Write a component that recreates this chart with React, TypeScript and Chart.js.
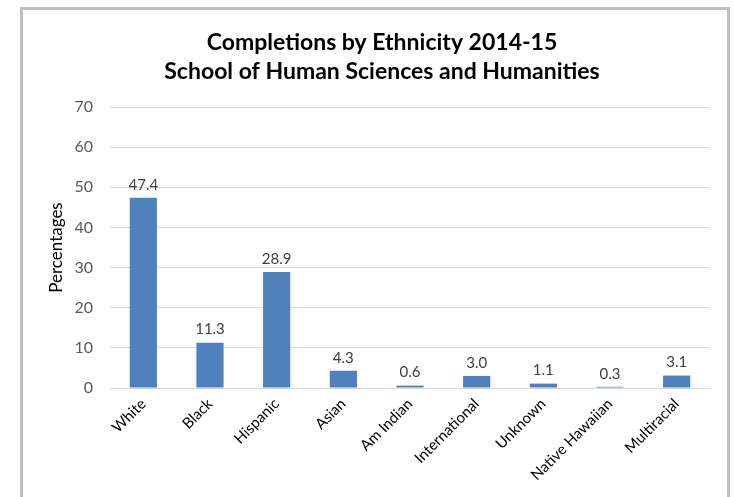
import React, { useEffect, useRef } from "react";
import { Chart, registerables } from "chart.js";

Chart.register(...registerables);

const categories = ["White", "Black", "Hispanic", "Asian", "Am Indian", "International", "Unknown", "Native Hawaiian", "Multiracial"];
const percentages = [47.4, 11.3, 28.9, 4.3, 0.6, 3.0, 1.1, 0.3, 3.1];
const titleLines = ["Completions by Ethnicity 2014-15", "School of Human Sciences and Humanities"];
const yTicks = [0, 10, 20, 30, 40, 50, 60, 70];

const FONT = "Lato, 'Open Sans', sans-serif";

const titlePlugin = {
  id: "customTitle",
  afterDraw(chart: any) {
    const ctx = chart.ctx;
    ctx.save();
    ctx.font = `bold 23px ${FONT}`;
    ctx.fillStyle = "#000000";
    ctx.textAlign = "center";
    ctx.textBaseline = "alphabetic";
    const cx = 382;
    ctx.fillText(titleLines[0], cx, 50);
    ctx.fillText(titleLines[1], cx, 79);
    ctx.restore();
  },
};

const labelPlugin = {
  id: "valueLabels",
  afterDatasetsDraw(chart: any) {
    const ctx = chart.ctx;
    const meta = chart.getDatasetMeta(0);
    const data = chart.data.datasets[0].data as number[];
    ctx.save();
    ctx.font = `15px ${FONT}`;
    ctx.fillStyle = "#404040";
    ctx.textAlign = "center";
    ctx.textBaseline = "middle";
    meta.data.forEach((bar: any, i: number) => {
      ctx.fillText(data[i].toFixed(1), bar.x, bar.y - 13);
    });
    ctx.restore();
  },
};

export default function App() {
  const ref = useRef<HTMLCanvasElement>(null);
  useEffect(() => {
    document.body.style.margin = "0";
    const chart = new Chart(ref.current!, {
      type: "bar",
      data: {
        labels: categories,
        datasets: [
          {
            data: percentages,
            backgroundColor: "#4f81bd",
            borderWidth: 0,
            barPercentage: 0.6,
            categoryPercentage: 0.68,
          },
        ],
      },
      options: {
        animation: false,
        responsive: false,
        layout: { padding: { left: 40, right: 24, top: 107, bottom: 9 } },
        plugins: { legend: { display: false }, title: { display: false }, tooltip: { enabled: false } },
        scales: {
          x: {
            grid: { display: false, drawTicks: false },
            border: { display: true, color: "#d9d9d9", width: 1 },
            ticks: {
              color: "#000000",
              font: { family: FONT, size: 15 },
              minRotation: 45,
              maxRotation: 45,
              padding: 7,
              autoSkip: false,
            },
            afterFit: (scale: any) => {
              scale.height = 100;
            },
          },
          y: {
            min: 0,
            max: 70,
            afterBuildTicks: (scale: any) => {
              scale.ticks = yTicks.map((v) => ({ value: v }));
            },
            grid: { color: "#d9d9d9", drawTicks: false },
            border: { display: false },
            ticks: { color: "#595959", font: { family: FONT, size: 16 }, padding: 17 },
            title: {
              display: true,
              text: "Percentages",
              color: "#000000",
              font: { family: FONT, size: 17 },
              padding: { top: 6, bottom: 0 },
            },
            afterFit: (scale: any) => {
              scale.width = 70;
            },
          },
        },
      },
      plugins: [titlePlugin, labelPlugin],
    });
    return () => chart.destroy();
  }, []);

  return (
    <div style={{ position: "relative", width: 734, height: 497, overflow: "hidden", background: "#ffffff" }}>
      <div
        style={{
          position: "absolute",
          left: 20,
          top: 7,
          width: 710,
          height: 520,
          border: "3px solid #bfbfbf",
          boxSizing: "border-box",
        }}
      />
      <canvas ref={ref} width={734} height={497} style={{ position: "absolute", left: 0, top: 0 }} />
    </div>
  );
}
